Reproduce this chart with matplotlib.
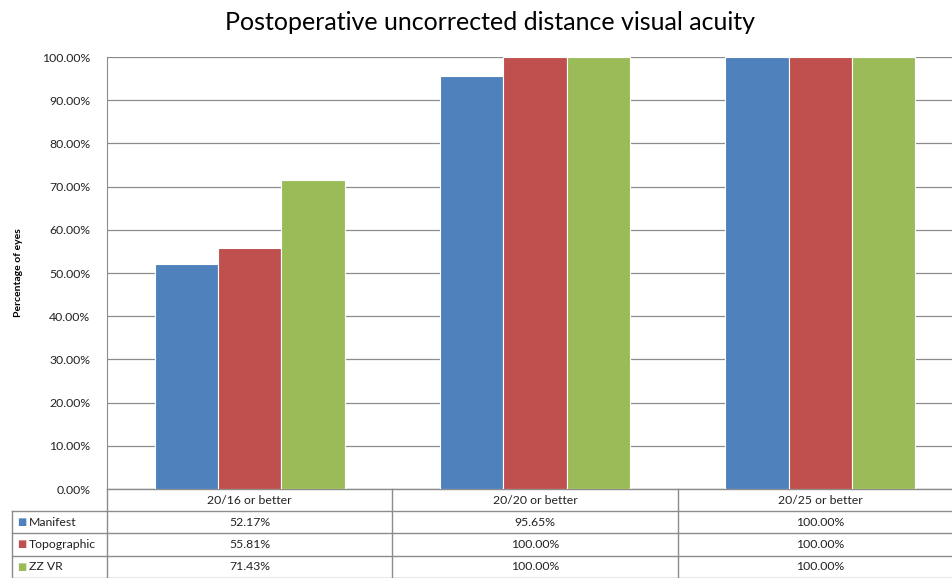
import matplotlib.pyplot as plt
import numpy as np

plt.rcParams['font.family'] = ['Lato', 'DejaVu Sans']

# data
categories = ["20/16 or better", "20/20 or better", "20/25 or better"]
series_names = ["Manifest", "Topographic", "ZZ VR"]
manifest = [52.17, 95.65, 100.00]
topographic = [55.81, 100.00, 100.00]
zz_vr = [71.43, 100.00, 100.00]
series_values = [manifest, topographic, zz_vr]
colors = ["#4F81BD", "#C0504D", "#9BBB59"]
yticks = np.arange(0, 101, 10)

W, H = 953, 578
fig = plt.figure(figsize=(W / 100, H / 100), dpi=100)
left, right, top, bottom = 107, 963, 57, 489
ax = fig.add_axes([left / W, 1 - bottom / H, (right - left) / W, (bottom - top) / H])

x = np.arange(len(categories))
bw = 0.222
for i, (name, vals) in enumerate(zip(series_names, series_values)):
    ax.bar(x + (i - 1) * bw, vals, width=bw, color=colors[i],
           edgecolor="white", linewidth=0.8, zorder=3, label=name)

ax.set_xlim(-0.5, len(categories) - 0.5)
ax.set_ylim(0, 100)
ax.set_yticks(yticks)
ax.set_yticklabels([f"{v:.2f}%" for v in yticks], fontsize=8.8, color="#222222")
ax.set_xticks([])
ax.tick_params(axis="y", length=0, pad=12)
ax.grid(axis="y", color="#8c8c8c", linewidth=0.9, zorder=0)
for s in ["top", "right", "bottom"]:
    ax.spines[s].set_visible(False)
ax.spines["left"].set_color("#8c8c8c")

ax.set_ylabel("Percentage of eyes", fontsize=7.5, fontweight="bold", labelpad=14)
fig.text(490 / W, 1 - 22 / H, "Postoperative uncorrected distance visual acuity",
         ha="center", va="center", fontsize=18)

# data table below the axes
trans = ax.get_xaxis_transform()
row_h = 22.2 / (bottom - top)
cat_px = (right - left) / len(categories)
line_kw = dict(color="#8c8c8c", linewidth=1.0, transform=trans, clip_on=False)
label_x = -0.5 - (left - 12) / cat_px
# horizontal lines
ax.plot([-0.5, 2.5], [0, 0], **line_kw)
for r in range(1, 5):
    ax.plot([label_x, 2.5], [-r * row_h, -r * row_h], **line_kw)
# vertical lines
for xv in [-0.5, 0.5, 1.5]:
    ax.plot([xv, xv], [0, -4 * row_h], **line_kw)
ax.plot([label_x, label_x], [-row_h, -4 * row_h], **line_kw)

for j, cat in enumerate(categories):
    ax.text(j, -0.5 * row_h, cat, transform=trans, ha="center", va="center",
            fontsize=8.8, color="#222222")
for i, (name, vals) in enumerate(zip(series_names, series_values)):
    yc = -(i + 1.5) * row_h
    ax.text(label_x + 5 / cat_px, yc, "\u25a0", transform=trans, ha="left", va="center",
            fontsize=7, color=colors[i], family="DejaVu Sans")
    ax.text(label_x + 17 / cat_px, yc, name, transform=trans, ha="left", va="center",
            fontsize=8.8, color="#222222")
    for j, v in enumerate(vals):
        ax.text(j, yc, f"{v:.2f}%", transform=trans, ha="center", va="center",
                fontsize=8.8, color="#222222")

fig.savefig("out.png", dpi=100)
